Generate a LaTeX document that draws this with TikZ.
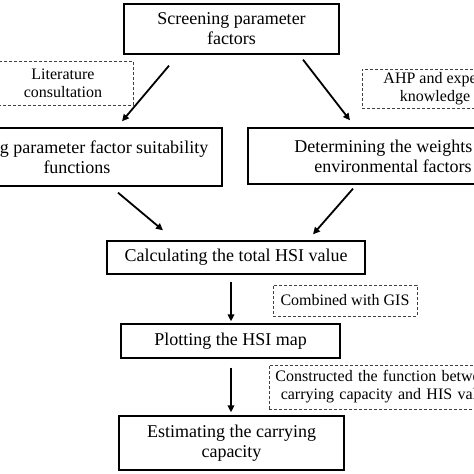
\documentclass[tikz,border=0pt]{standalone}
\usepackage{fontspec}
\setmainfont{Liberation Serif}
\usetikzlibrary{calc,arrows.meta}
\begin{document}
\begin{tikzpicture}[x=1pt,y=-1pt,
  stepbox/.style={draw=black,line width=1.3pt,inner sep=0pt,align=center,
    font=\fontsize{18}{20}\selectfont},
  notebox/.style={draw=black!75,line width=0.9pt,dash pattern=on 3pt off 2pt,
    inner sep=0pt,align=center,font=\fontsize{16}{18}\selectfont},
  arr/.style={line width=1.8pt,-{Triangle[length=7pt,width=6.5pt]}}]
\useasboundingbox (0,0) rectangle (474,474);
\clip (0,0) rectangle (474,474);
\node[stepbox,minimum width=215pt,minimum height=50pt] (top) at (231.5,29) {Screening parameter\\factors};
\node[notebox,minimum width=140pt,minimum height=44pt] (lit) at (63,83) {Literature\\consultation};
\node[notebox,minimum width=146pt,minimum height=39pt] (ahp) at (435,88.5) {AHP and expert\\knowledge};
\node[stepbox,minimum width=290pt,minimum height=58pt] (left) at (77,157) {Building parameter factor suitability\\functions};
\node[stepbox,minimum width=290pt,minimum height=56pt] (right) at (393,156) {Determining the weights of\\environmental factors};
\node[stepbox,minimum width=258pt,minimum height=33pt] (hsi) at (236,257.5) {Calculating the total HSI value};
\node[notebox,minimum width=144pt,minimum height=31pt] (gis) at (345,300.5) {Combined with GIS};
\node[stepbox,minimum width=219pt,minimum height=34pt] (map) at (230.5,341) {Plotting the HSI map};
\node[notebox,text width=228pt,inner xsep=6pt,minimum height=44pt,align=left,anchor=west] (fun) at (269,387) {Constructed the function between\\\ carrying capacity and HIS value};
\node[stepbox,minimum width=225pt,minimum height=54pt] (est) at (231.5,443) {Estimating the carrying\\capacity};
\draw[arr] ($(top.south)+(-62.5,11)$) -- ($(left.north)+(45,-6)$);
\draw[arr] ($(top.south)+(71.5,5)$) -- ($(right.north)+(-43,-7)$);
\draw[arr] ($(left.south)+(41,6)$) -- ($(hsi.north)+(-73,-10)$);
\draw[arr] ($(right.south)+(-40,4)$) -- ($(hsi.north)+(77,-6)$);
\draw[arr] ($(hsi.south)+(-5,7)$) -- ($(map.north)+(0.5,-2)$);
\draw[arr] ($(map.south)+(0.5,9)$) -- ($(est.north)+(-0.5,-3)$);
\end{tikzpicture}
\end{document}
